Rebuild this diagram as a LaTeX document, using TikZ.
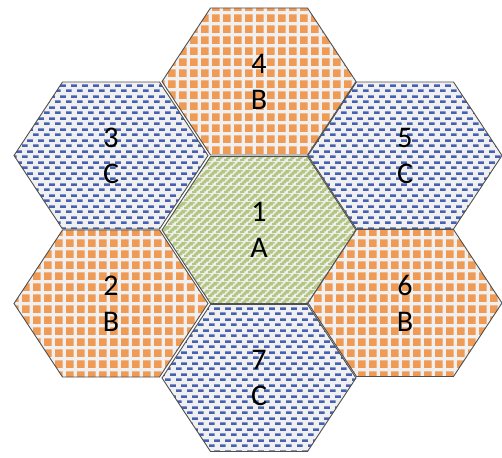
\documentclass[tikz,border=0pt]{standalone}
\usepackage{fontspec}
\setmainfont{Carlito}
\usetikzlibrary{patterns}
\definecolor{hexorange}{RGB}{239,154,85}
\definecolor{hexblue}{RGB}{70,96,178}
\definecolor{hexgreen}{RGB}{178,198,128}
\definecolor{hexbg}{RGB}{240,240,240}
\definecolor{hexline}{RGB}{80,80,80}
\pgfdeclarepatterninherentlycolored{orangegrid}
{\pgfpointorigin}{\pgfqpoint{11.25pt}{11.25pt}}
{\pgfqpoint{11.25pt}{11.25pt}}
{%
  \pgfsetfillcolor{hexorange}%
  \pgfpathrectangle{\pgfpointorigin}{\pgfqpoint{8.2pt}{8.2pt}}%
  \pgfusepath{fill}%
}
\pgfdeclarepatterninherentlycolored{bluedash}
{\pgfpointorigin}{\pgfqpoint{11pt}{11.1pt}}
{\pgfqpoint{11pt}{11.1pt}}
{%
  \pgfsetfillcolor{hexblue}%
  \pgfpathrectangle{\pgfpointorigin}{\pgfqpoint{6pt}{2.7pt}}%
  \pgfpathrectangle{\pgfqpoint{5.5pt}{5.55pt}}{\pgfqpoint{6pt}{2.7pt}}%
  \pgfusepath{fill}%
}
\pgfdeclarepatterninherentlycolored{greenstair}
{\pgfpointorigin}{\pgfqpoint{8pt}{8pt}}
{\pgfqpoint{8pt}{8pt}}
{%
  \pgfsetfillcolor{hexgreen}%
  \pgfpathrectangle{\pgfqpoint{0pt}{0pt}}{\pgfqpoint{5pt}{2pt}}%
  \pgfpathrectangle{\pgfqpoint{2pt}{2pt}}{\pgfqpoint{5pt}{2pt}}%
  \pgfpathrectangle{\pgfqpoint{4pt}{4pt}}{\pgfqpoint{4pt}{2pt}}%
  \pgfpathrectangle{\pgfqpoint{0pt}{4pt}}{\pgfqpoint{1pt}{2pt}}%
  \pgfpathrectangle{\pgfqpoint{6pt}{6pt}}{\pgfqpoint{2pt}{2pt}}%
  \pgfpathrectangle{\pgfqpoint{0pt}{6pt}}{\pgfqpoint{3pt}{2pt}}%
  \pgfusepath{fill}%
}
\tikzset{
  hexcell/.style={draw=hexline, line width=0.9pt, line join=miter, preaction={fill=hexbg}},
  orangecell/.style={hexcell, preaction={pattern=orangegrid}},
  bluecell/.style={hexcell, preaction={pattern=bluedash}},
  greencell/.style={hexcell, preaction={pattern=greenstair}},
  celllabel/.style={font=\fontsize{30}{36}\selectfont, align=center, text=black, inner sep=0pt}
}
\newcommand\drawhex[5]{%
  \path[#4] (#2-97,#3) -- (#2-48.5,#3-73.5) -- (#2+48.5,#3-73.5) -- (#2+97,#3)
    -- (#2+48.5,#3+73.5) -- (#2-48.5,#3+73.5) -- cycle;
  \node[celllabel] (#1) at (#2,#3) {#5};
}
\begin{document}
\begin{tikzpicture}[x=1pt,y=-1pt]
\useasboundingbox (0,0) rectangle (502,457);
\drawhex{h4}{259}{81.5}{orangecell}{4\\B}
\drawhex{h3}{111}{155.5}{bluecell}{3\\C}
\drawhex{h5}{405}{155.5}{bluecell}{5\\C}
\drawhex{h1}{259}{230}{greencell}{1\\A}
\drawhex{h2}{111}{303.5}{orangecell}{2\\B}
\drawhex{h6}{405}{303}{orangecell}{6\\B}
\drawhex{h7}{259}{378}{bluecell}{7\\C}
\end{tikzpicture}
\end{document}
